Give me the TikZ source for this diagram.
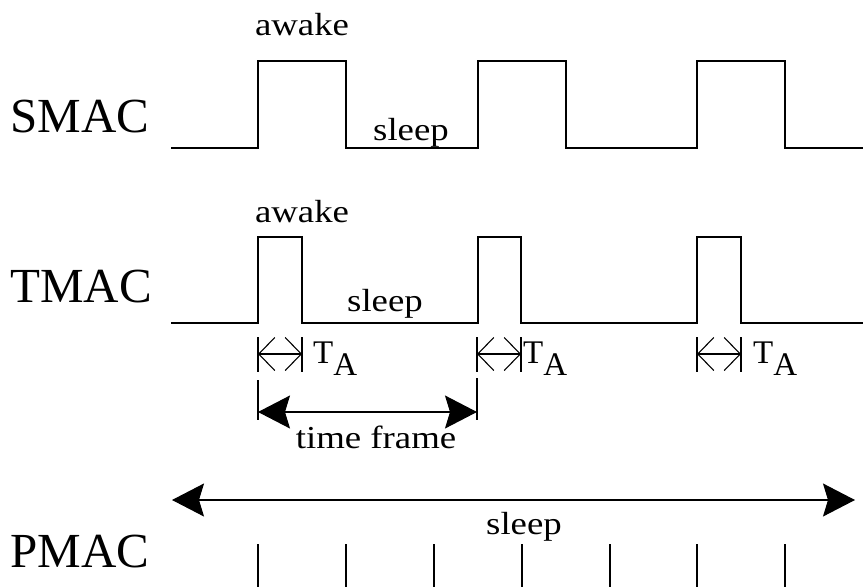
\documentclass[tikz,border=0pt]{standalone}
\usepackage{fontspec}
\setmainfont{Liberation Serif}
\newfontfamily\lblfont[FakeStretch=1.15]{Liberation Serif}
\usetikzlibrary{arrows.meta}
\tikzset{
  wave/.style={line width=1.2pt, line join=miter},
  tick/.style={line width=1.2pt},
  big/.style={inner sep=0pt, anchor=base, font=\fontsize{49}{49}\selectfont},
  lbl/.style={inner sep=0pt, anchor=base, font=\lblfont\fontsize{32}{32}\selectfont},
  tafont/.style={inner sep=0pt, anchor=base west, font=\fontsize{33}{33}\selectfont},
  taarrow/.style={line width=1.1pt, {Straight Barb[length=16pt,width=33pt,line width=1.1pt]}-{Straight Barb[length=16pt,width=33pt,line width=1.1pt]}},
  bigarrow/.style={line width=1.2pt, {Stealth[length=32pt,width=33pt,inset=5pt]}-{Stealth[length=32pt,width=33pt,inset=5pt]}},
}
\begin{document}
\begin{tikzpicture}[x=1pt,y=-1pt]
\useasboundingbox (0,0) rectangle (863,587);
% labels
\node[big] (smac) at (80,132) {SMAC};
\node[big] (tmac) at (81,302) {TMAC};
\node[big] (pmac) at (80,567) {PMAC};
\node[lbl] (awake1) at (302,35) {awake};
\node[lbl] (sleep1) at (411,140) {sleep};
\node[lbl] (awake2) at (302,222) {awake};
\node[lbl] (sleep2) at (385,311) {sleep};
\node[lbl] (tframe) at (376,448) {time frame};
\node[lbl] (sleep3) at (524,534) {sleep};
% SMAC waveform
\draw[wave] (171,148) -- (258,148) -- (258,61) -- (346,61) -- (346,148) -- (478,148) -- (478,61) -- (566,61) -- (566,148) -- (697,148) -- (697,61) -- (785,61) -- (785,148) -- (863,148);
% TMAC waveform
\draw[wave] (171,323) -- (258,323) -- (258,237) -- (302,237) -- (302,323) -- (478,323) -- (478,237) -- (521,237) -- (521,323) -- (697,323) -- (697,237) -- (741,237) -- (741,323) -- (863,323);
% T_A markers
\foreach \a/\b/\t [count=\i] in {258/302/313, 477/521/523, 697/741/753}{
  \coordinate (ta\i l) at (\a,354);
  \coordinate (ta\i r) at (\b,354);
  \draw[tick] (\a,337) -- (\a,372);
  \draw[tick] (\b,337) -- (\b,372);
  \draw[taarrow] (ta\i l) -- (ta\i r);
  \node[tafont] (talbl\i) at (\t,363) {T\raisebox{-12pt}{A}};
}
% time frame
\coordinate (tfl) at (258,412);
\coordinate (tfr) at (477,412);
\draw[tick] (258,380) -- (258,420);
\draw[tick] (477,378) -- (477,420);
\draw[bigarrow] (tfl) -- (tfr);
% PMAC
\coordinate (pl) at (172,500);
\coordinate (pr) at (855,500);
\draw[bigarrow] (pl) -- (pr);
\foreach \x in {258,346,434,522,610,697,785}{
  \draw[tick] (\x,544) -- (\x,587);
}
\end{tikzpicture}
\end{document}
